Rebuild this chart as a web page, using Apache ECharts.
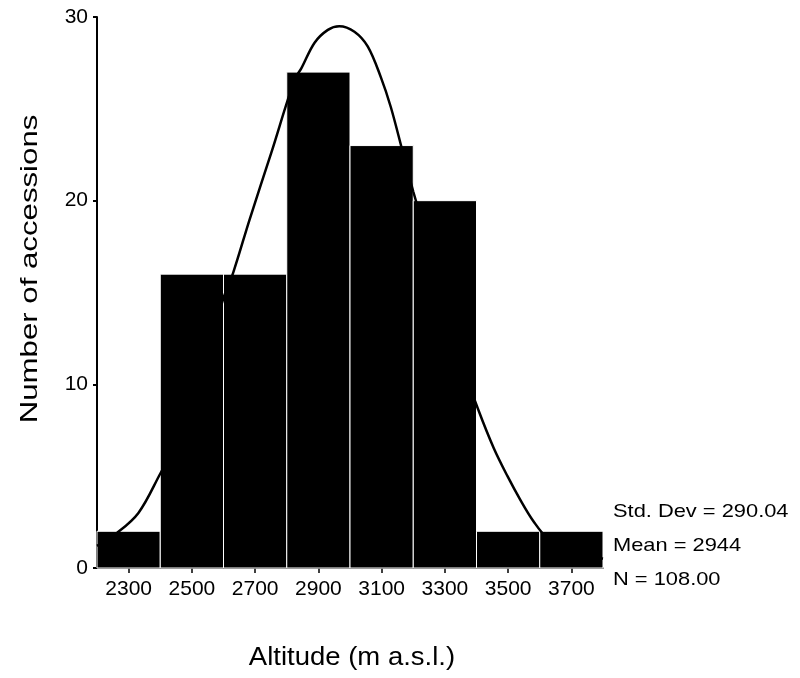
<!DOCTYPE html>
<html>
<head>
<meta charset="utf-8">
<script src="https://cdn.jsdelivr.net/npm/echarts@6/dist/echarts.min.js"></script>
<style>
  html, body { margin: 0; padding: 0; background: #fff; }
  #chart { width: 800px; height: 678px; }
</style>
</head>
<body>
<div id="chart"></div>
<script>
// Histogram bins (lower edge) and counts
const binStarts = [2200, 2400, 2600, 2800, 3000, 3200, 3400, 3600];
const binWidth = 200;
const counts = [2, 16, 16, 27, 23, 20, 2, 2];

// Tick labels along the altitude axis
const xTicks = [2300, 2500, 2700, 2900, 3100, 3300, 3500, 3700];

// Fitted normal curve, sampled points [altitude, count]
const curveX = [2200, 2258, 2331, 2402, 2446, 2483, 2509, 2550, 2600, 2631, 2683, 2751, 2825, 2846, 2888, 2930, 2966, 3014, 3056, 3098, 3129, 3166, 3200, 3250, 3300, 3350, 3406, 3454, 3498, 3539, 3580, 3624, 3700, 3800];
const curveY = [1.2, 1.84, 3.0, 5.2, 6.6, 8.1, 9.4, 11.8, 14.7, 16.1, 19.0, 22.6, 26.6, 27.2, 28.6, 29.3, 29.5, 29.2, 28.4, 26.7, 25.1, 22.7, 20.5, 17.5, 14.3, 11.3, 8.6, 6.55, 5.0, 3.7, 2.55, 1.65, 1.0, 0.5];

const statLines = ['Std. Dev = 290.04', 'Mean = 2944', 'N = 108.00'];
const xName = 'Altitude (m a.s.l.)';
const yName = 'Number of accessions';

const barData = binStarts.map((s, i) => [s, s + binWidth, counts[i]]);
const curveData = curveX.map((x, i) => [x, curveY[i]]);

const chart = echarts.init(document.getElementById('chart'), null, { renderer: 'canvas' });
const font = 'Liberation Sans, Arial, sans-serif';

chart.setOption({
  backgroundColor: '#fff',
  animation: false,
  grid: { left: 97, right: 197, top: 17, bottom: 110 },
  xAxis: {
    type: 'value',
    min: 2200,
    max: 3800,
    axisLine: { show: true, lineStyle: { color: '#000', width: 1.5 } },
    axisTick: { show: true, length: 5, customValues: xTicks, lineStyle: { color: '#000', width: 1.5 } },
    axisLabel: {
      customValues: xTicks,
      formatter: v => String(v),
      color: '#000', fontSize: 21, fontFamily: font, margin: 11
    },
    splitLine: { show: false }
  },
  yAxis: {
    type: 'value',
    min: 0,
    max: 30,
    interval: 10,
    axisLine: { show: true, lineStyle: { color: '#000', width: 2 } },
    axisTick: { show: true, length: 4, lineStyle: { color: '#000', width: 2 } },
    axisLabel: { color: '#000', fontSize: 21, fontFamily: font, margin: 9 },
    splitLine: { show: false }
  },
  series: [
    {
      type: 'custom',
      data: barData,
      encode: { x: [0, 1], y: 2 },
      renderItem: function (params, api) {
        const p0 = api.coord([api.value(0), api.value(2)]);
        const p1 = api.coord([api.value(1), 0]);
        return {
          type: 'rect',
          shape: { x: p0[0], y: p0[1], width: p1[0] - p0[0], height: p1[1] - p0[1] },
          style: { fill: '#000', stroke: '#fff', lineWidth: 1 }
        };
      },
      z: 2
    },
    {
      type: 'line',
      data: curveData,
      smooth: 0.35,
      showSymbol: false,
      lineStyle: { color: '#000', width: 2.5 },
      z: 3
    }
  ],
  graphic: [
    {
      type: 'text',
      x: 352, y: 658,
      scaleX: 1.1,
      style: { text: xName, fill: '#000', fontSize: 25, fontFamily: font, textAlign: 'center', textVerticalAlign: 'middle' }
    },
    {
      type: 'text',
      x: 30, y: 269,
      rotation: Math.PI / 2,
      scaleX: 1.3,
      style: { text: yName, fill: '#000', fontSize: 24, fontFamily: font, textAlign: 'center', textVerticalAlign: 'middle' }
    }
  ].concat(statLines.map((t, i) => ({
    type: 'text',
    x: 613,
    y: 512 + i * 34,
    scaleX: 1.15,
    style: { text: t, fill: '#000', fontSize: 19, fontFamily: font, textAlign: 'left', textVerticalAlign: 'middle' }
  })))
});
</script>
</body>
</html>
